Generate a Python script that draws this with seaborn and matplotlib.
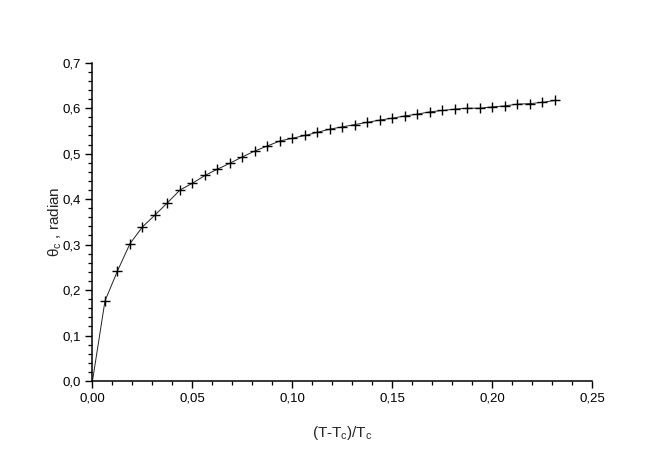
import numpy as np
import pandas as pd
import matplotlib
matplotlib.use("Agg")
import matplotlib.pyplot as plt
import seaborn as sns
from matplotlib.ticker import MultipleLocator, FuncFormatter

# reduced temperature (T-Tc)/Tc
reduced_t = [0.0, 0.00625, 0.0125, 0.01875, 0.025, 0.03125, 0.0375, 0.04375,
             0.05, 0.05625, 0.0625, 0.06875, 0.075, 0.08125, 0.0875, 0.09375,
             0.1, 0.10625, 0.1125, 0.11875, 0.125, 0.13125, 0.1375, 0.14375,
             0.15, 0.15625, 0.1625, 0.16875, 0.175, 0.18125, 0.1875, 0.19375,
             0.2, 0.20625, 0.2125, 0.21875, 0.225, 0.23125]

# critical angle theta_c in radians
theta_c = [0.0, 0.176, 0.242, 0.302, 0.339, 0.365, 0.392, 0.420,
           0.435, 0.452, 0.466, 0.479, 0.493, 0.506, 0.517, 0.528,
           0.534, 0.540, 0.547, 0.554, 0.559, 0.564, 0.569, 0.574,
           0.578, 0.583, 0.587, 0.592, 0.595, 0.598, 0.600, 0.600,
           0.603, 0.605, 0.609, 0.610, 0.613, 0.617]

Data = pd.DataFrame({"t": reduced_t, "theta": theta_c})

sns.set_style("ticks")
plt.rcParams['font.family'] = ['Liberation Sans', 'DejaVu Sans']
plt.rcParams['mathtext.fontset'] = 'custom'
plt.rcParams['mathtext.rm'] = 'Liberation Sans'
plt.rcParams['mathtext.it'] = 'Liberation Sans'

fig = plt.figure(figsize=(6.54, 4.53), dpi=100)
ax = fig.add_axes([0.1414, 0.159, 0.7645, 0.7025])

# line through all points, crosses from the first non-zero point on
sns.lineplot(data=Data, x="t", y="theta", ax=ax, color="#222222", linewidth=0.7,
             marker="+", markersize=7, markeredgewidth=1.0, markeredgecolor="black",
             markevery=list(range(1, len(reduced_t))))

ax.set_xlim(0, 0.25)
ax.set_ylim(0, 0.7)
ax.xaxis.set_major_locator(MultipleLocator(0.05))
ax.xaxis.set_minor_locator(MultipleLocator(0.01))
ax.yaxis.set_major_locator(MultipleLocator(0.1))
ax.yaxis.set_minor_locator(MultipleLocator(0.02))
ax.xaxis.set_major_formatter(FuncFormatter(lambda v, p: f"{v:.2f}".replace(".", ",")))
ax.yaxis.set_major_formatter(FuncFormatter(lambda v, p: f"{v:.1f}".replace(".", ",")))

sns.despine(ax=ax)
for s in ["left", "bottom"]:
    ax.spines[s].set_linewidth(1.1)
    ax.spines[s].set_color("black")
ax.tick_params(which="major", length=5, width=1.0, direction="out", labelsize=9.5, colors="black")
ax.tick_params(which="minor", length=3, width=0.9, direction="out", colors="black")

ax.set_xlabel(r"(T-T$_\mathregular{c}$)/T$_\mathregular{c}$", fontsize=11, labelpad=14)
ax.set_ylabel(r"$\mathregular{\theta}_\mathregular{c}$ , radian", fontsize=11, labelpad=-1)

fig.savefig("out.png", dpi=100)
